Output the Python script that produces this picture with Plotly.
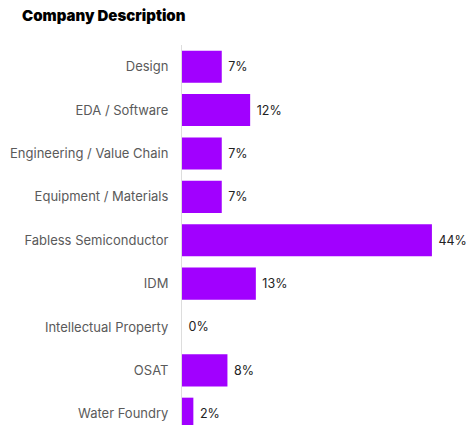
import plotly.graph_objects as go

categories = ["Design", "EDA / Software", "Engineering / Value Chain", "Equipment / Materials",
              "Fabless Semiconductor", "IDM", "Intellectual Property", "OSAT", "Water Foundry"]
values = [7, 12, 7, 7, 44, 13, 0, 8, 2]
title_text = "Company Description"

W, H = 466, 425

fig = go.Figure(go.Bar(
    x=values, y=categories, orientation="h",
    marker=dict(color="#A100FF", line=dict(width=0)),
    text=[f"{v}%" for v in values], textposition="outside",
    texttemplate=" %{text}",
    textfont=dict(family="Inter, Roboto, sans-serif", size=12.5, color="#222222"),
    cliponaxis=False,
    hoverinfo="skip",
))

fig.update_layout(
    width=W, height=H,
    margin=dict(l=182, r=0, t=45, b=0, autoexpand=False),
    paper_bgcolor="white", plot_bgcolor="white",
    bargap=0.26,
    showlegend=False,
    title=dict(text=title_text, x=22/W, xref="container", xanchor="left",
               y=1, yref="container", yanchor="top", automargin=False,
               pad=dict(t=10, l=0),
               font=dict(family="Inter, Roboto, sans-serif", size=15, color="#000000",
                         weight=900)),
    xaxis=dict(range=[0, 50], visible=False, fixedrange=True, automargin=False),
    yaxis=dict(categoryorder="array", categoryarray=categories, automargin=False,
               range=[8.26, -0.5], showline=True, linecolor="#dddddd", linewidth=1,
               showgrid=False, zeroline=False, ticks="", ticklabelstandoff=10,
               tickfont=dict(family="Inter, Roboto, sans-serif", size=13, color="#5a5a5a")),
)

fig.write_html("out.html", config={"displayModeBar": False, "staticPlot": True},
               post_script="document.body.style.margin='0';document.body.style.overflow='hidden';")
